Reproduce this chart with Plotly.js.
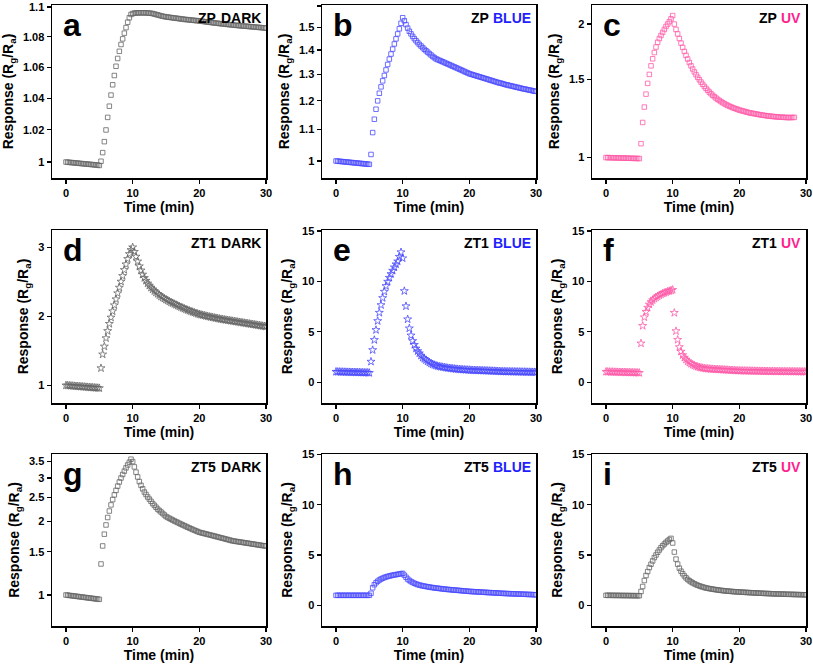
<!DOCTYPE html>
<html>
<head>
<meta charset="utf-8">
<script src="https://cdn.plot.ly/plotly-3.0.1.min.js"></script>
<style>html,body{margin:0;padding:0;background:#fff;}#chart{width:813px;height:665px;}</style>
</head>
<body>
<div id="chart"></div>
<script>
// Time axis (min), shared by all panels
const time = [0,0.25,0.5,0.75,1,1.25,1.5,1.75,2,2.25,2.5,2.75,3,3.25,3.5,3.75,4,4.25,4.5,4.75,5,
5.25,5.5,5.75,6,6.25,6.5,6.75,7,7.25,7.5,7.75,8,8.25,8.5,8.75,9,9.25,9.5,9.75,10,
10.25,10.5,10.75,11,11.25,11.5,11.75,12,12.25,12.5,12.75,13,13.25,13.5,13.75,14,14.25,14.5,14.75,15,
15.25,15.5,15.75,16,16.25,16.5,16.75,17,17.25,17.5,17.75,18,18.25,18.5,18.75,19,19.25,19.5,19.75,20,
20.25,20.5,20.75,21,21.25,21.5,21.75,22,22.25,22.5,22.75,23,23.25,23.5,23.75,24,24.25,24.5,24.75,25,
25.25,25.5,25.75,26,26.25,26.5,26.75,27,27.25,27.5,27.75,28,28.25,28.5,28.75,29,29.25,29.5,29.75,30];

// a: ZP DARK
const zpDark = [1.0000,0.9999,0.9998,0.9997,0.9996,0.9995,0.9994,0.9993,0.9992,0.9991,0.9990,0.9989,0.9988,0.9987,0.9986,0.9985,0.9984,0.9983,0.9982,0.9981,0.9979,
1.0005,1.0058,1.0126,1.0199,1.0278,1.0349,1.0420,1.0486,1.0546,1.0606,1.0657,1.0704,1.0749,1.0786,1.0824,1.0861,1.0897,1.0927,1.0949,1.0955,
1.0958,1.0959,1.0960,1.0960,1.0960,1.0960,1.0960,1.0960,1.0959,1.0958,1.0957,1.0955,1.0952,1.0949,1.0946,1.0943,1.0940,1.0937,1.0935,1.0933,
1.0931,1.0930,1.0928,1.0927,1.0925,1.0924,1.0922,1.0921,1.0919,1.0918,1.0916,1.0915,1.0914,1.0913,1.0911,1.0910,1.0909,1.0908,1.0907,1.0906,
1.0904,1.0903,1.0901,1.0900,1.0898,1.0897,1.0895,1.0894,1.0892,1.0891,1.0890,1.0888,1.0887,1.0886,1.0885,1.0883,1.0882,1.0881,1.0880,1.0878,
1.0877,1.0876,1.0875,1.0874,1.0873,1.0872,1.0871,1.0870,1.0869,1.0868,1.0867,1.0866,1.0865,1.0864,1.0863,1.0862,1.0861,1.0860,1.0859,1.0857];

// b: ZP BLUE
const zpBlue = [1.000,0.9995,0.999,0.9985,0.998,0.9975,0.997,0.9965,0.996,0.9955,0.995,0.9945,0.994,0.9935,0.993,0.9925,0.992,0.9915,0.991,0.9905,0.990,
1.020,1.090,1.135,1.170,1.200,1.228,1.252,1.275,1.296,1.318,1.340,1.362,1.383,1.404,1.426,1.448,1.470,1.493,1.518,1.544,
1.530,1.512,1.496,1.482,1.470,1.459,1.449,1.440,1.432,1.424,1.417,1.410,1.403,1.397,1.391,1.385,1.379,1.373,1.368,1.363,
1.360,1.357,1.354,1.351,1.348,1.345,1.342,1.339,1.336,1.333,1.330,1.327,1.324,1.321,1.318,1.315,1.312,1.309,1.306,1.303,
1.301,1.299,1.297,1.295,1.293,1.291,1.289,1.287,1.285,1.283,1.281,1.279,1.277,1.275,1.273,1.271,1.269,1.267,1.266,1.264,
1.262,1.260,1.259,1.257,1.256,1.254,1.253,1.251,1.250,1.248,1.247,1.245,1.244,1.243,1.241,1.240,1.239,1.237,1.236,1.235];

// c: ZP UV (ends at 28.25 min)
const zpUV = [1.000,1.000,0.9995,0.9995,0.999,0.999,0.9985,0.9985,0.998,0.998,0.9975,0.9975,0.997,0.997,0.9965,0.9965,0.996,0.996,0.9955,0.9955,0.995,
1.075,1.200,1.300,1.390,1.470,1.540,1.610,1.670,1.725,1.775,1.820,1.855,1.885,1.915,1.945,1.975,2.000,2.025,2.055,2.090,
2.000,1.945,1.900,1.855,1.812,1.772,1.735,1.700,1.668,1.638,1.610,1.584,1.560,1.538,1.517,1.498,1.480,1.463,1.447,1.432,
1.418,1.405,1.393,1.382,1.372,1.362,1.353,1.345,1.337,1.330,1.323,1.317,1.311,1.306,1.301,1.296,1.292,1.288,1.284,1.280,
1.277,1.274,1.271,1.268,1.265,1.262,1.260,1.258,1.256,1.254,1.252,1.250,1.248,1.246,1.245,1.243,1.242,1.240,1.239,1.238,
1.237,1.236,1.235,1.234,1.233,1.233,1.232,1.232,1.231,1.231,1.231,1.232,1.232];

// d: ZT1 DARK
const zt1Dark = [1.000,0.998,0.996,0.994,0.992,0.990,0.988,0.986,0.984,0.982,0.980,0.978,0.976,0.974,0.972,0.970,0.968,0.966,0.964,0.962,0.960,
1.250,1.450,1.565,1.686,1.790,1.894,1.986,2.077,2.164,2.251,2.338,2.420,2.507,2.589,2.676,2.758,2.836,2.908,2.966,3.005,
2.940,2.870,2.800,2.730,2.670,2.610,2.560,2.520,2.480,2.450,2.420,2.395,2.370,2.350,2.330,2.310,2.290,2.275,2.260,2.245,
2.232,2.219,2.206,2.194,2.182,2.170,2.158,2.147,2.136,2.125,2.114,2.104,2.094,2.084,2.075,2.066,2.057,2.048,2.040,2.032,
2.026,2.020,2.014,2.008,2.002,1.997,1.992,1.987,1.982,1.977,1.972,1.967,1.962,1.958,1.954,1.950,1.946,1.942,1.938,1.934,
1.930,1.926,1.922,1.918,1.914,1.910,1.906,1.902,1.898,1.894,1.890,1.886,1.882,1.878,1.874,1.870,1.866,1.862,1.858,1.855];

// e: ZT1 BLUE
const zt1Blue = [1.05,1.04,1.04,1.03,1.03,1.02,1.02,1.01,1.01,1.00,1.00,0.99,0.99,0.98,0.98,0.97,0.97,0.96,0.96,0.95,0.94,
2.05,3.20,4.20,5.19,6.08,6.90,7.66,8.36,8.99,9.55,9.98,10.37,10.74,11.07,11.40,11.70,11.99,12.45,12.90,12.30,
9.05,7.55,6.25,5.35,4.65,4.10,3.72,3.35,3.10,2.88,2.65,2.45,2.32,2.20,2.08,1.97,1.87,1.79,1.72,1.66,
1.61,1.57,1.54,1.51,1.48,1.45,1.42,1.40,1.38,1.36,1.34,1.32,1.305,1.29,1.275,1.26,1.25,1.24,1.23,1.22,
1.21,1.20,1.195,1.19,1.18,1.175,1.17,1.16,1.155,1.15,1.14,1.135,1.13,1.12,1.115,1.11,1.10,1.09,1.08,1.07,
1.07,1.065,1.06,1.06,1.055,1.05,1.05,1.045,1.04,1.04,1.035,1.03,1.03,1.025,1.02,1.02,1.015,1.01,1.01,1.00];

// f: ZT1 UV
const zt1UV = [1.05,1.04,1.04,1.03,1.03,1.02,1.02,1.01,1.01,1.00,1.00,0.99,0.99,0.98,0.98,0.97,0.97,0.96,0.96,0.95,0.94,
3.86,5.60,6.45,7.00,7.40,7.72,7.96,8.15,8.30,8.42,8.53,8.63,8.72,8.80,8.87,8.93,9.00,9.05,9.11,9.17,
6.89,5.08,4.22,3.50,3.05,2.70,2.45,2.25,2.08,1.95,1.84,1.75,1.67,1.60,1.54,1.49,1.45,1.42,1.39,1.36,
1.35,1.33,1.32,1.31,1.30,1.29,1.28,1.27,1.26,1.25,1.24,1.23,1.22,1.21,1.20,1.19,1.18,1.17,1.16,1.15,
1.15,1.145,1.14,1.14,1.135,1.13,1.13,1.125,1.12,1.12,1.115,1.11,1.11,1.105,1.10,1.10,1.095,1.09,1.09,1.09,
1.085,1.085,1.08,1.08,1.08,1.075,1.075,1.07,1.07,1.07,1.065,1.065,1.06,1.06,1.06,1.055,1.055,1.05,1.05,1.05];

// g: ZT5 DARK
const zt5Dark = [1.000,0.998,0.996,0.994,0.992,0.990,0.988,0.986,0.984,0.982,0.980,0.978,0.976,0.974,0.972,0.970,0.968,0.966,0.964,0.962,0.960,
1.338,1.585,1.770,1.930,2.070,2.200,2.330,2.450,2.560,2.670,2.780,2.890,3.000,3.100,3.200,3.300,3.390,3.480,3.580,3.500,
3.330,3.170,3.030,2.900,2.800,2.710,2.630,2.570,2.510,2.460,2.410,2.360,2.320,2.280,2.240,2.210,2.180,2.150,2.120,2.090,
2.072,2.055,2.038,2.021,2.005,1.990,1.975,1.960,1.945,1.931,1.917,1.903,1.889,1.876,1.863,1.850,1.838,1.826,1.814,1.802,
1.795,1.788,1.781,1.774,1.767,1.760,1.753,1.746,1.739,1.732,1.725,1.718,1.711,1.704,1.697,1.690,1.683,1.676,1.669,1.662,
1.658,1.654,1.650,1.646,1.642,1.638,1.634,1.630,1.626,1.622,1.618,1.614,1.610,1.606,1.602,1.598,1.594,1.590,1.587,1.585];

// h: ZT5 BLUE
const zt5Blue = [1.00,1.00,1.00,1.00,1.00,1.00,1.00,1.00,1.00,1.00,1.00,1.00,1.00,1.00,1.00,1.00,1.00,1.00,1.00,1.00,1.00,
1.20,1.75,2.05,2.25,2.40,2.52,2.62,2.70,2.77,2.83,2.88,2.92,2.96,3.00,3.03,3.06,3.09,3.12,3.15,3.18,
3.00,2.80,2.62,2.48,2.37,2.28,2.20,2.13,2.07,2.02,1.98,1.94,1.91,1.88,1.85,1.82,1.79,1.77,1.745,1.72,
1.70,1.68,1.66,1.64,1.62,1.60,1.585,1.57,1.555,1.54,1.525,1.51,1.495,1.48,1.465,1.45,1.435,1.42,1.405,1.39,
1.38,1.37,1.36,1.35,1.34,1.33,1.32,1.31,1.30,1.29,1.28,1.27,1.265,1.255,1.245,1.235,1.225,1.215,1.205,1.195,
1.19,1.18,1.17,1.165,1.16,1.15,1.145,1.14,1.13,1.125,1.12,1.11,1.105,1.10,1.09,1.085,1.08,1.07,1.06,1.05];

// i: ZT5 UV
const zt5UV = [1.00,1.00,1.00,0.995,0.995,0.99,0.99,0.99,0.985,0.985,0.98,0.98,0.98,0.975,0.975,0.97,0.97,0.965,0.965,0.96,0.96,
1.38,1.88,2.47,2.97,3.36,3.76,4.09,4.42,4.75,5.01,5.28,5.51,5.74,5.93,6.10,6.26,6.40,6.55,6.66,6.20,
5.30,4.60,4.10,3.70,3.40,3.15,2.93,2.74,2.58,2.45,2.34,2.24,2.15,2.07,2.00,1.94,1.88,1.83,1.78,1.73,
1.70,1.67,1.64,1.61,1.585,1.56,1.535,1.51,1.49,1.47,1.45,1.435,1.42,1.405,1.39,1.375,1.36,1.35,1.34,1.33,
1.32,1.31,1.30,1.29,1.28,1.27,1.26,1.25,1.24,1.235,1.225,1.215,1.21,1.20,1.19,1.185,1.175,1.17,1.16,1.15,
1.145,1.14,1.135,1.13,1.125,1.12,1.115,1.11,1.105,1.10,1.095,1.09,1.085,1.08,1.075,1.07,1.065,1.06,1.055,1.05];

// Panel labels and titles
const panelLetters = ['a','b','c','d','e','f','g','h','i'];
const sampleNames = ['ZP','ZP','ZP','ZT1','ZT1','ZT1','ZT5','ZT5','ZT5'];
const lightNames = ['DARK','BLUE','UV','DARK','BLUE','UV','DARK','BLUE','UV'];
const xTitle = 'Time (min)';
const yTitle = 'Response (R<sub>g</sub>/R<sub>a</sub>)';
const xTicks = [0,10,20,30];
const yTicksA = [1,1.02,1.04,1.06,1.08,1.1];
const yTicksB = [1,1.1,1.2,1.3,1.4,1.5,1.6];
const yTicksC = [1,1.5,2];
const yTicksD = [1,2,3];
const yTicksG = [1,1.5,2,2.5,3,3.5];
const yTicks15 = [0,5,10,15];

// ---------- styling / layout ----------
const W = 813, H = 665;
const colPx = [[52,266],[322,536],[592,806]];
const rowPx = [[5,178],[230,403],[454,626]];
const GRAY = '#666666', BLUE = '#4a4aff', PINK = '#ff5aa8';
const lightColor = {DARK:'#000000', BLUE:'#1f1fff', UV:'#ff1f8f'};
const lightWidth = {DARK: 41, BLUE: 38, UV: 20};
const markerColor = {DARK: GRAY, BLUE: BLUE, UV: PINK};

const series = [zpDark, zpBlue, zpUV, zt1Dark, zt1Blue, zt1UV, zt5Dark, zt5Blue, zt5UV];
const symbols = ['square-open','square-open','square-open','star-open','star-open','star-open','square-open','square-open','square-open'];
const markerOverride = {8: GRAY};
const yCfg = [
  {type:'log', range:[-0.00426, 0.0419], tv:yTicksA},
  {type:'log', range:[-0.0224, 0.2054], tv:yTicksB},
  {type:'log', range:[-0.046, 0.344], tv:yTicksC},
  {type:'linear', range:[0.744, 3.256], tv:yTicksD},
  {type:'linear', range:[-2.05, 15.1], tv:yTicks15},
  {type:'linear', range:[-2.05, 15.1], tv:yTicks15},
  {type:'log', range:[-0.1265, 0.575], tv:yTicksG},
  {type:'linear', range:[-2.05, 15.05], tv:yTicks15},
  {type:'linear', range:[-2.05, 15.05], tv:yTicks15}
];

const FONT = 'Liberation Sans, Arial, sans-serif';
const data = [];
const layout = {
  width: W, height: H,
  margin: {l:0, r:0, t:0, b:0},
  paper_bgcolor: '#fff', plot_bgcolor: '#fff',
  showlegend: false,
  font: {family: FONT, color: '#000'},
  annotations: []
};

for (let k = 0; k < 9; k++) {
  const r = Math.floor(k / 3), c = k % 3;
  const n = k + 1;
  const xa = 'xaxis' + (n === 1 ? '' : n), ya = 'yaxis' + (n === 1 ? '' : n);
  const xr = 'x' + (n === 1 ? '' : n), yr = 'y' + (n === 1 ? '' : n);
  const ys = series[k];
  const mc = markerOverride[k] || markerColor[lightNames[k]];
  data.push({
    type: 'scatter', mode: 'markers',
    x: time.slice(0, ys.length), y: ys,
    xaxis: xr, yaxis: yr,
    marker: {symbol: symbols[k], size: symbols[k] === 'star-open' ? 6 : 4.5,
             color: mc, line: {color: mc, width: 0.8}},
    hoverinfo: 'skip'
  });
  const xd = [colPx[c][0] / W, colPx[c][1] / W];
  const yd = [1 - rowPx[r][1] / H, 1 - rowPx[r][0] / H];
  layout[xa] = {
    domain: xd, anchor: yr, range: [-2.1, 30], fixedrange: true,
    showline: true, mirror: true, linecolor: '#000', linewidth: 1.5,
    ticks: 'outside', ticklen: 4, tickwidth: 1.2, tickcolor: '#000',
    tickvals: xTicks, ticktext: xTicks.map(String),
    tickfont: {family: FONT, size: 11, weight: 'bold', color: '#000'},
    title: {text: xTitle, standoff: 4,
            font: {family: FONT, size: 14, weight: 'bold', color: '#000'}},
    showgrid: false, zeroline: false
  };
  const yc = yCfg[k];
  layout[ya] = {
    domain: yd, anchor: xr, type: yc.type, range: yc.range, fixedrange: true,
    showline: true, mirror: true, linecolor: '#000', linewidth: 1.5,
    ticks: 'outside', ticklen: 4, tickwidth: 1.2, tickcolor: '#000',
    tickvals: yc.tv, ticktext: yc.tv.map(String),
    tickfont: {family: FONT, size: 11, weight: 'bold', color: '#000'},
    title: {text: yTitle, standoff: 6,
            font: {family: FONT, size: 14, weight: 'bold', color: '#000'}},
    showgrid: false, zeroline: false
  };
  const left = colPx[c][0], right = colPx[c][1], top = rowPx[r][0];
  // panel letter
  layout.annotations.push({
    xref: 'paper', yref: 'paper', x: (left + 9) / W, y: 1 - (top + 0) / H,
    xanchor: 'left', yanchor: 'top', showarrow: false,
    text: panelLetters[k],
    font: {family: FONT, size: 32, weight: 'bold', color: '#000'}
  });
  // light condition label (coloured), right-aligned
  const lw = lightWidth[lightNames[k]];
  layout.annotations.push({
    xref: 'paper', yref: 'paper', x: (right - 3) / W, y: 1 - (top + 3) / H,
    xanchor: 'right', yanchor: 'top', showarrow: false,
    text: lightNames[k],
    font: {family: FONT, size: 14, weight: 'bold', color: lightColor[lightNames[k]]}
  });
  // sample name (black), just left of the light label
  layout.annotations.push({
    xref: 'paper', yref: 'paper', x: (right - 3 - lw - 4) / W, y: 1 - (top + 3) / H,
    xanchor: 'right', yanchor: 'top', showarrow: false,
    text: sampleNames[k],
    font: {family: FONT, size: 14, weight: 'bold', color: '#000'}
  });
}

Plotly.newPlot('chart', data, layout, {displayModeBar: false, staticPlot: true});
</script>
</body>
</html>
